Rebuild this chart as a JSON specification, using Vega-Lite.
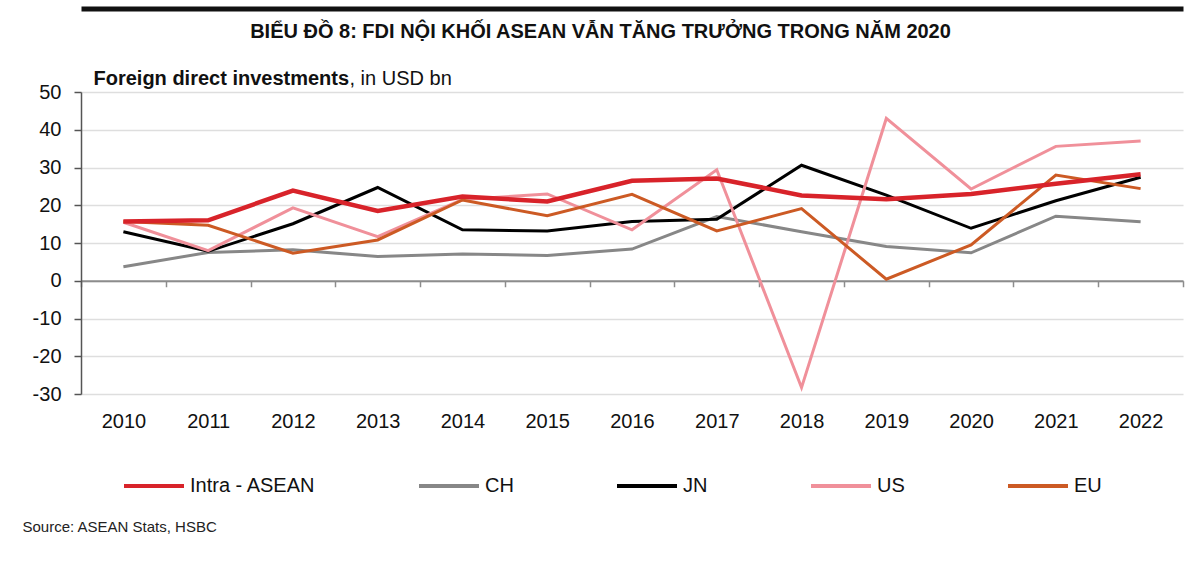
{
  "$schema": "https://vega.github.io/schema/vega-lite/v6.json",
  "width": 1102,
  "height": 302,
  "autosize": {"type": "none"},
  "padding": {"left": 81, "top": 92, "right": 17, "bottom": 172},
  "background": "white",
  "config": {
    "view": {"stroke": null},
    "font": "Liberation Sans, Arial, sans-serif"
  },
  "data": {
    "values": [
      {"year": "2010", "series": "CH", "value": 3.7},
      {"year": "2011", "series": "CH", "value": 7.5},
      {"year": "2012", "series": "CH", "value": 8.2},
      {"year": "2013", "series": "CH", "value": 6.4},
      {"year": "2014", "series": "CH", "value": 7.1},
      {"year": "2015", "series": "CH", "value": 6.7},
      {"year": "2016", "series": "CH", "value": 8.4},
      {"year": "2017", "series": "CH", "value": 17.0},
      {"year": "2018", "series": "CH", "value": 13.0},
      {"year": "2019", "series": "CH", "value": 9.1},
      {"year": "2020", "series": "CH", "value": 7.4},
      {"year": "2021", "series": "CH", "value": 17.1},
      {"year": "2022", "series": "CH", "value": 15.6},
      {"year": "2010", "series": "JN", "value": 13.0},
      {"year": "2011", "series": "JN", "value": 7.8},
      {"year": "2012", "series": "JN", "value": 15.1},
      {"year": "2013", "series": "JN", "value": 24.7},
      {"year": "2014", "series": "JN", "value": 13.5},
      {"year": "2015", "series": "JN", "value": 13.2},
      {"year": "2016", "series": "JN", "value": 15.7},
      {"year": "2017", "series": "JN", "value": 16.3},
      {"year": "2018", "series": "JN", "value": 30.6},
      {"year": "2019", "series": "JN", "value": 22.7},
      {"year": "2020", "series": "JN", "value": 13.9},
      {"year": "2021", "series": "JN", "value": 21.2},
      {"year": "2022", "series": "JN", "value": 27.4},
      {"year": "2010", "series": "US", "value": 15.5},
      {"year": "2011", "series": "US", "value": 8.0},
      {"year": "2012", "series": "US", "value": 19.3},
      {"year": "2013", "series": "US", "value": 11.7},
      {"year": "2014", "series": "US", "value": 21.5},
      {"year": "2015", "series": "US", "value": 23.0},
      {"year": "2016", "series": "US", "value": 13.5},
      {"year": "2017", "series": "US", "value": 29.4},
      {"year": "2018", "series": "US", "value": -28.3},
      {"year": "2019", "series": "US", "value": 43.0},
      {"year": "2020", "series": "US", "value": 24.3},
      {"year": "2021", "series": "US", "value": 35.6},
      {"year": "2022", "series": "US", "value": 37.0},
      {"year": "2010", "series": "EU", "value": 15.7},
      {"year": "2011", "series": "EU", "value": 14.7},
      {"year": "2012", "series": "EU", "value": 7.3},
      {"year": "2013", "series": "EU", "value": 10.8},
      {"year": "2014", "series": "EU", "value": 21.4},
      {"year": "2015", "series": "EU", "value": 17.2},
      {"year": "2016", "series": "EU", "value": 22.9},
      {"year": "2017", "series": "EU", "value": 13.2},
      {"year": "2018", "series": "EU", "value": 19.1},
      {"year": "2019", "series": "EU", "value": 0.4},
      {"year": "2020", "series": "EU", "value": 9.5},
      {"year": "2021", "series": "EU", "value": 28.0},
      {"year": "2022", "series": "EU", "value": 24.4},
      {"year": "2010", "series": "Intra - ASEAN", "value": 15.7},
      {"year": "2011", "series": "Intra - ASEAN", "value": 16.0},
      {"year": "2012", "series": "Intra - ASEAN", "value": 23.9},
      {"year": "2013", "series": "Intra - ASEAN", "value": 18.5},
      {"year": "2014", "series": "Intra - ASEAN", "value": 22.3},
      {"year": "2015", "series": "Intra - ASEAN", "value": 21.0},
      {"year": "2016", "series": "Intra - ASEAN", "value": 26.5},
      {"year": "2017", "series": "Intra - ASEAN", "value": 27.1},
      {"year": "2018", "series": "Intra - ASEAN", "value": 22.6},
      {"year": "2019", "series": "Intra - ASEAN", "value": 21.6},
      {"year": "2020", "series": "Intra - ASEAN", "value": 23.0},
      {"year": "2021", "series": "Intra - ASEAN", "value": 25.7},
      {"year": "2022", "series": "Intra - ASEAN", "value": 28.2}
    ]
  },
  "layer": [
    {
      "mark": {"type": "line", "strokeJoin": "miter", "strokeCap": "butt"},
      "encoding": {
        "x": {
          "field": "year",
          "type": "ordinal",
          "scale": {"type": "band", "paddingInner": 0, "paddingOuter": 0},
          "axis": {
            "orient": "bottom",
            "offset": -113.25,
            "labelAngle": 0,
            "labelFontSize": 20,
            "labelColor": "#111111",
            "labelPadding": 125,
            "domainColor": "#8c8c8c",
            "domainWidth": 2,
            "tickColor": "#8c8c8c",
            "tickWidth": 1.5,
            "tickSize": 6,
            "tickBand": "extent",
            "grid": false,
            "title": "Source: ASEAN Stats, HSBC",
            "titleFontSize": 15,
            "titleFontWeight": "normal",
            "titleColor": "#222222",
            "titleAlign": "left",
            "titleBaseline": "alphabetic",
            "titleX": -59,
            "titleY": 251
          }
        },
        "y": {
          "field": "value",
          "type": "quantitative",
          "scale": {"domain": [-30, 50], "nice": false, "zero": false},
          "axis": {
            "orient": "left",
            "values": [-30, -20, -10, 0, 10, 20, 30, 40, 50],
            "labelExpr": "replace(datum.label, '−', '-')",
            "labelFontSize": 20,
            "labelColor": "#111111",
            "labelPadding": 13,
            "domainColor": "#555555",
            "domainWidth": 1.5,
            "tickColor": "#555555",
            "tickWidth": 1.5,
            "tickSize": 7,
            "grid": true,
            "gridColor": "#dedede",
            "gridWidth": 1.5,
            "title": "Foreign direct investments",
            "titleFontSize": 20,
            "titleFontWeight": "bold",
            "titleColor": "#111111",
            "titleAngle": 0,
            "titleAlign": "left",
            "titleBaseline": "alphabetic",
            "titleX": 12,
            "titleY": -8
          }
        },
        "color": {
          "field": "series",
          "type": "nominal",
          "scale": {
            "domain": ["Intra - ASEAN", "CH", "JN", "US", "EU"],
            "range": ["#d8232a", "#878787", "#000000", "#f0909a", "#cc5a24"]
          },
          "legend": {
            "orient": "none",
            "direction": "horizontal",
            "legendX": 41,
            "legendY": 362,
            "title": null,
            "symbolType": "stroke",
            "symbolSize": 3600,
            "symbolStrokeWidth": 4,
            "labelFontSize": 20,
            "labelColor": "#111111",
            "labelOffset": 4,
            "columnPadding": 95
          }
        },
        "strokeWidth": {
          "condition": {"test": "datum.series === 'Intra - ASEAN'", "value": 4.5},
          "value": 3
        }
      }
    },
    {
      "mark": {"type": "line", "opacity": 0},
      "encoding": {
        "x": {
          "field": "year",
          "type": "ordinal",
          "axis": {
            "orient": "top",
            "offset": 83.5,
            "labels": false,
            "ticks": false,
            "grid": false,
            "domainColor": "#111111",
            "domainWidth": 5,
            "title": "BIỂU ĐỒ 8: FDI NỘI KHỐI ASEAN VẪN TĂNG TRƯỞNG TRONG NĂM 2020",
            "titleFontSize": 20,
            "titleFontWeight": "bold",
            "titleColor": "#111111",
            "titleAlign": "center",
            "titleBaseline": "alphabetic",
            "titleX": 519,
            "titleY": 28.5
          }
        },
        "y": {
          "field": "value",
          "type": "quantitative",
          "axis": {
            "orient": "right",
            "labels": false,
            "ticks": false,
            "domain": false,
            "grid": false,
            "title": ", in USD bn",
            "titleFontSize": 20,
            "titleFontWeight": "normal",
            "titleColor": "#111111",
            "titleAngle": 0,
            "titleAlign": "left",
            "titleBaseline": "alphabetic",
            "titleX": -834,
            "titleY": -8
          }
        },
        "detail": {"field": "series"}
      }
    }
  ],
  "resolve": {"axis": {"x": "independent", "y": "independent"}}
}
